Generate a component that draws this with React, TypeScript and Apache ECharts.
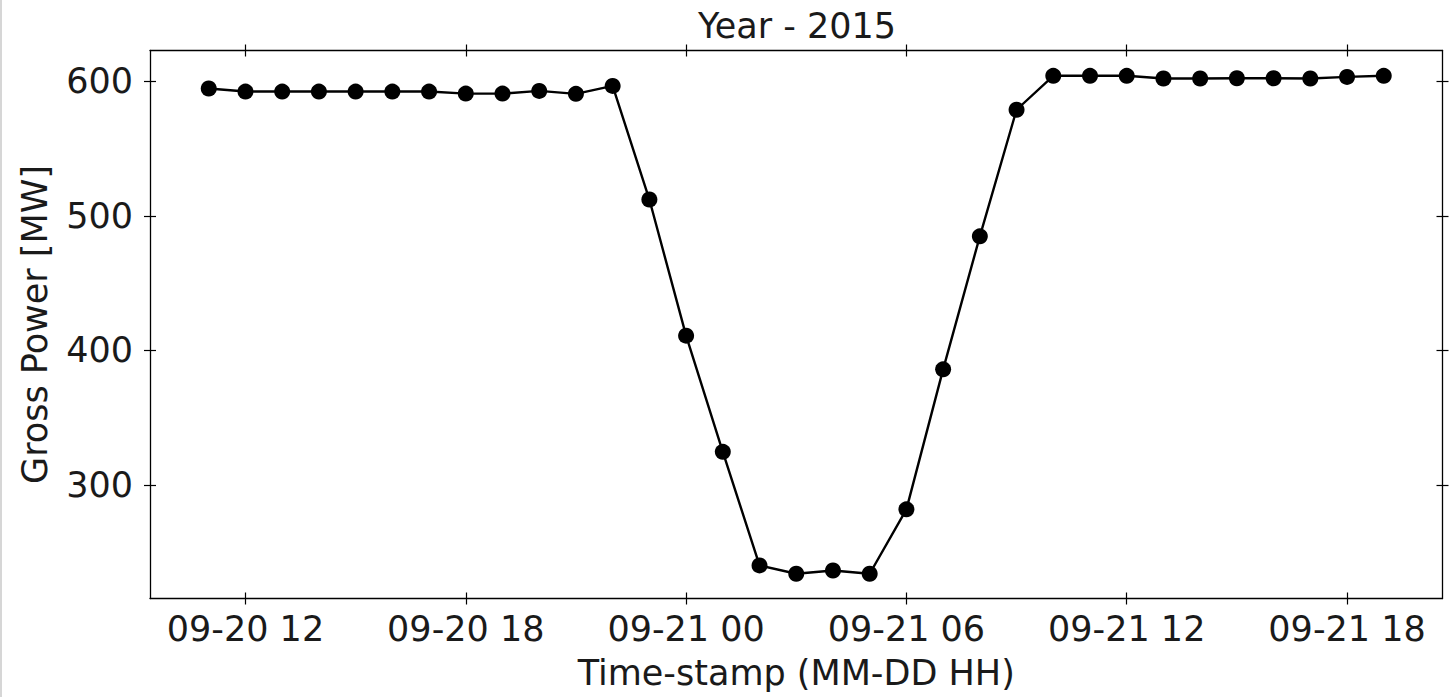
import React, { useEffect, useRef } from "react";
import * as echarts from "echarts";

// Hours counted from 09-20 00:00
const hours = [11, 12, 13, 14, 15, 16, 17, 18, 19, 20, 21, 22, 23, 24, 25, 26, 27, 28, 29, 30, 31, 32, 33, 34, 35, 36, 37, 38, 39, 40, 41, 42, 43];
const grossPower = [594.6, 592.3, 592.3, 592.3, 592.3, 592.3, 592.3, 590.8, 590.8, 592.8, 590.6, 596.5, 512.1, 411.0, 324.7, 240.4, 234.2, 236.6, 234.2, 282.0, 386.0, 484.8, 578.8, 604.0, 604.0, 604.0, 602.0, 602.0, 602.2, 602.2, 602.0, 603.2, 604.0];
const xTickHours = [12, 18, 24, 30, 36, 42];
const yTickValues = [300, 400, 500, 600];
const titleText = "Year - 2015";
const xAxisName = "Time-stamp (MM-DD HH)";
const yAxisName = "Gross Power [MW]";

const FONT = "DejaVu Sans";
const FS = 35;
const TEXT_COLOR = "#1a1a1a";

function fmtHour(h: number): string {
  const day = 20 + Math.floor(h / 24);
  const hh = h % 24;
  return "09-" + String(day) + " " + (hh < 10 ? "0" + hh : String(hh));
}

export default function App() {
  const ref = useRef<HTMLDivElement>(null);
  useEffect(() => {
    if (!ref.current) return;
    const chart = echarts.init(ref.current, null, { renderer: "svg" });
    const xMin = 9.4, xMax = 44.6, yMin = 215.8, yMax = 622.8;
    const lineStyle = { color: "#000", width: 1.3 };
    const mkX = (position: string, inside: boolean, showLine: boolean, showLabel: boolean, name?: string) => ({
      type: "value",
      position,
      min: xMin,
      max: xMax,
      axisLine: { show: showLine, lineStyle, onZero: false },
      axisTick: { show: true, inside, length: 6, lineStyle: { color: "#000", width: 1.2 }, customValues: xTickHours },
      axisLabel: {
        show: showLabel,
        customValues: xTickHours,
        formatter: (v: number) => fmtHour(v),
        fontFamily: FONT,
        fontSize: FS,
        color: TEXT_COLOR,
        margin: 13,
      },
      splitLine: { show: false },
      name: name,
      nameLocation: "middle",
      nameGap: 57,
      nameTextStyle: { fontFamily: FONT, fontSize: FS, color: TEXT_COLOR },
    });
    const mkY = (position: string, inside: boolean, showLine: boolean, showLabel: boolean, name?: string) => ({
      type: "value",
      position,
      min: yMin,
      max: yMax,
      axisLine: { show: showLine, lineStyle, onZero: false },
      axisTick: { show: true, inside, length: 6, lineStyle: { color: "#000", width: 1.2 }, customValues: yTickValues },
      axisLabel: {
        show: showLabel,
        customValues: yTickValues,
        fontFamily: FONT,
        fontSize: FS,
        color: TEXT_COLOR,
        margin: 17,
      },
      splitLine: { show: false },
      name: name,
      nameLocation: "middle",
      nameGap: 98,
      nameRotate: 90,
      nameTextStyle: { fontFamily: FONT, fontSize: FS, color: TEXT_COLOR },
    });
    chart.setOption({
      animation: false,
      backgroundColor: "#fff",
      title: {
        text: titleText,
        left: 792,
        top: 3,
        textAlign: "center",
        textStyle: { fontFamily: FONT, fontSize: FS, fontWeight: "normal", color: TEXT_COLOR },
      },
      grid: { left: 150, top: 50.5, right: 9.5, bottom: 98.5, containLabel: false },
      xAxis: [
        mkX("bottom", false, true, true, xAxisName),
        mkX("bottom", true, false, false),
        mkX("top", false, true, false),
        mkX("top", true, false, false),
      ],
      yAxis: [
        mkY("left", false, true, true, yAxisName),
        mkY("left", true, false, false),
        mkY("right", false, true, false),
        mkY("right", true, false, false),
      ],
      graphic: [
        { type: "rect", shape: { x: 0, y: 0, width: 2, height: 697 }, style: { fill: "#d6d6d6" }, silent: true },
      ],
      series: [
        {
          type: "line",
          xAxisIndex: 0,
          yAxisIndex: 0,
          data: hours.map((h, i) => [h, grossPower[i]]),
          symbol: "circle",
          symbolSize: 16,
          showSymbol: true,
          lineStyle: { color: "#000", width: 2.4 },
          itemStyle: { color: "#000" },
        },
      ],
    });
    return () => chart.dispose();
  }, []);
  return (
    <div
      ref={ref}
      style={{ position: "fixed", left: 0, top: 0, width: 1452, height: 697, background: "#fff" }}
    />
  );
}
